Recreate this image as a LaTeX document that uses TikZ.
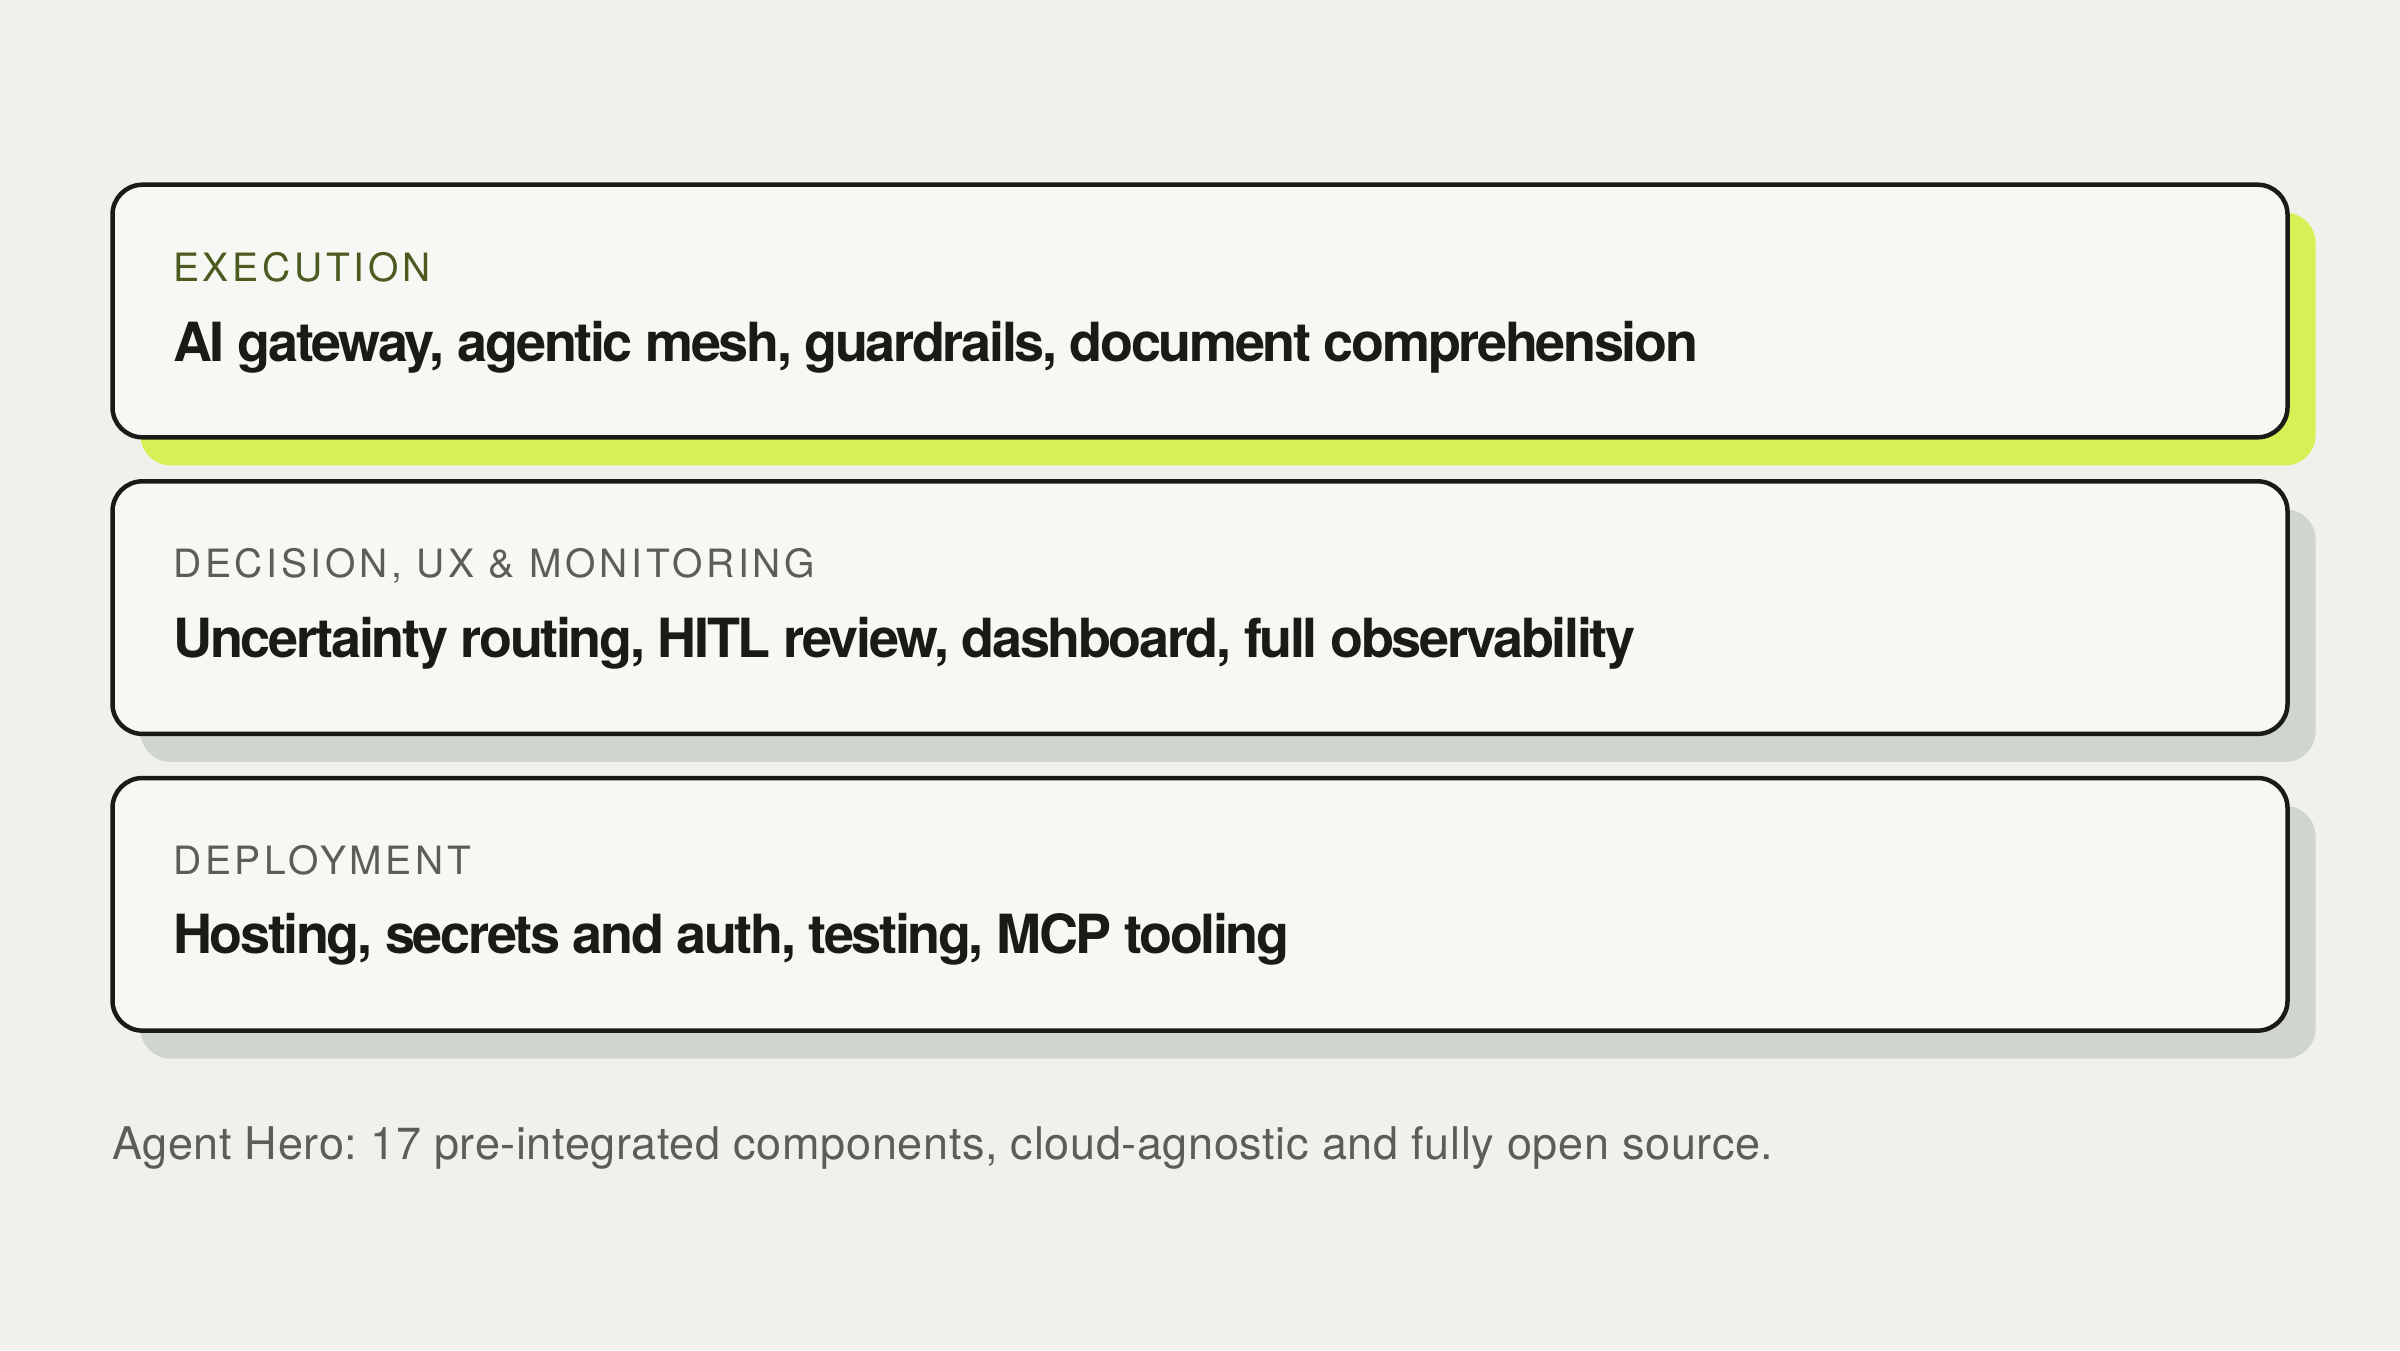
\documentclass[tikz,border=0pt]{standalone}
\usepackage{fontspec}
\setmainfont{TeX Gyre Heros}
\newfontfamily\tagfont[LetterSpace=9.5]{TeX Gyre Heros}
\newfontfamily\itemfont[LetterSpace=-4.4]{TeX Gyre Heros}
\newfontfamily\footfont[LetterSpace=1.4]{TeX Gyre Heros}
\definecolor{paper}{HTML}{F1F1EC}
\definecolor{card}{HTML}{F7F7F3}
\definecolor{ink}{HTML}{1A1B16}
\definecolor{lime}{HTML}{D8F056}
\definecolor{mist}{HTML}{D0D5CD}
\definecolor{olive}{HTML}{4B5A1F}
\definecolor{slate}{HTML}{5A5E57}

\begin{document}
\frenchspacing
\begin{tikzpicture}[x=1pt,y=-1pt,
  card/.style={draw=ink,line width=4.5pt,fill=card,rounded corners=30pt},
  shade/.style={rounded corners=30pt},
  tag/.style={anchor=base west,inner sep=0pt,font=\tagfont\fontsize{39}{39}\selectfont},
  item/.style={anchor=base west,inner sep=0pt,text=ink,font=\itemfont\fontsize{54}{54}\selectfont\bfseries}]
  %background
  \fill[paper] (0,0) rectangle (2400,1350);
  \useasboundingbox (0,0) rectangle (2400,1350);

  %execution card
  \fill[lime,shade] (140.5,212.7) rectangle (2315.5,465.3);
  \draw[card] (112.5,184.7) rectangle (2287.5,437.3);
  \node[tag,text=olive] (exectag) at (173,281) {EXECUTION};
  \node[item] (exectext) at (173,361) {AI gateway, agentic mesh, guardrails, document comprehension};

  %decision card
  \fill[mist,shade] (140.5,509.3) rectangle (2315.5,761.9);
  \draw[card] (112.5,481.3) rectangle (2287.5,733.9);
  \node[tag,text=slate] (dectag) at (173,577.5) {DECISION, UX \& MONITORING};
  \node[item] (dectext) at (173,657.5) {Uncertainty routing, HITL review, dashboard, full observability};

  %deployment card
  \fill[mist,shade] (140.5,806) rectangle (2315.5,1058.6);
  \draw[card] (112.5,778) rectangle (2287.5,1030.6);
  \node[tag,text=slate] (deptag) at (173,874.5) {DEPLOYMENT};
  \node[item] (deptext) at (173,953) {Hosting, secrets and auth, testing, MCP tooling};

  %footnote
  \node[anchor=base west,inner sep=0pt,text=slate,font=\footfont\fontsize{45}{45}\selectfont] (foot) at (112,1159)
    {Agent Hero: 17 pre-integrated components, cloud-agnostic and fully open source.};
\end{tikzpicture}
\end{document}
